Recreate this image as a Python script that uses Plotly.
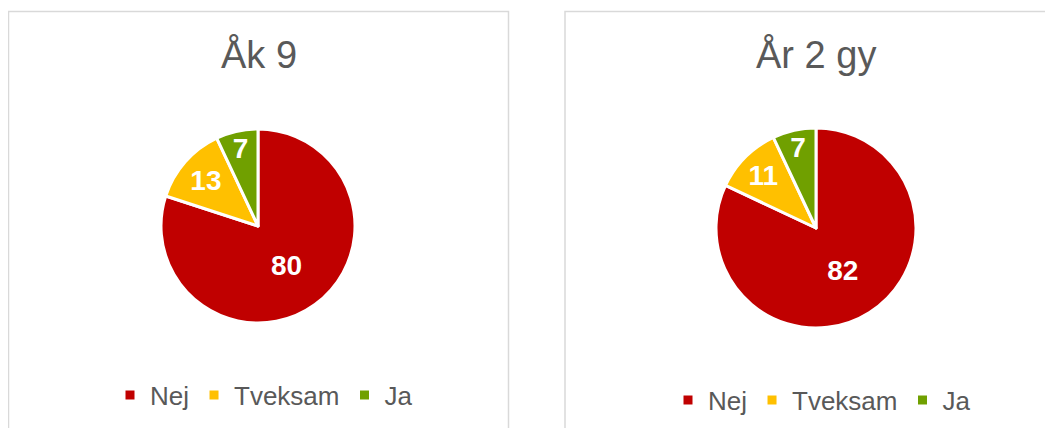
import plotly.graph_objects as go

categories = ["Nej", "Tveksam", "Ja"]
values_ak9 = [80, 13, 7]
values_ar2 = [82, 11, 7]
titles = ["Åk 9", "År 2 gy"]
colors = ["#C00000", "#FFC000", "#70A000"]

W, H = 1053, 428
OFF = 8  # page body margin in the browser
FONT = "Liberation Sans, Arial, sans-serif"

def px_x(v):
    return (v - OFF) / W

def px_y(v):
    return (H - (v - OFF)) / H

fig = go.Figure()

fig.add_trace(go.Pie(
    labels=categories, values=values_ak9, sort=False, direction="clockwise",
    rotation=0, marker=dict(colors=colors, line=dict(color="white", width=3)),
    textinfo="value", textposition="inside", insidetextorientation="horizontal",
    textfont=dict(family=FONT, size=28, color="white", weight="bold"),
    domain=dict(x=[px_x(161), px_x(355)], y=[px_y(323), px_y(129)]),
    legend="legend", hoverinfo="label+value",
))
# zero-width space keeps the second legend's entries separate from the first
fig.add_trace(go.Pie(
    labels=[c + "\u200b" for c in categories], values=values_ar2, sort=False,
    direction="clockwise",
    rotation=0, marker=dict(colors=colors, line=dict(color="white", width=3)),
    textinfo="value", textposition="inside", insidetextorientation="horizontal",
    textfont=dict(family=FONT, size=28, color="white", weight="bold"),
    domain=dict(x=[px_x(716), px_x(916)], y=[px_y(328), px_y(128)]),
    legend="legend2", hoverinfo="label+value",
))

legend_common = dict(
    orientation="h", xanchor="center", yanchor="middle",
    font=dict(family=FONT, size=26, color="#595959"),
    bgcolor="rgba(0,0,0,0)", itemclick=False, itemdoubleclick=False,
)

fig.update_layout(
    width=W, height=H, margin=dict(l=0, r=0, t=0, b=0),
    paper_bgcolor="white", plot_bgcolor="white",
    legend=dict(x=px_x(264), y=px_y(395), **legend_common),
    legend2=dict(x=px_x(822), y=px_y(400), **legend_common),
    shapes=[
        dict(type="rect", xref="paper", yref="paper",
             x0=px_x(8.5), x1=px_x(508.5), y0=px_y(450), y1=px_y(11.5),
             line=dict(color="#D9D9D9", width=1.5), fillcolor="rgba(0,0,0,0)"),
        dict(type="rect", xref="paper", yref="paper",
             x0=px_x(565), x1=px_x(1080), y0=px_y(450), y1=px_y(11.5),
             line=dict(color="#D9D9D9", width=1.5), fillcolor="rgba(0,0,0,0)"),
    ],
    annotations=[
        dict(text=titles[0], x=px_x(259), y=px_y(55), xref="paper", yref="paper",
             showarrow=False, xanchor="center", yanchor="middle",
             font=dict(family=FONT, size=38, color="#595959")),
        dict(text=titles[1], x=px_x(816), y=px_y(55), xref="paper", yref="paper",
             showarrow=False, xanchor="center", yanchor="middle",
             font=dict(family=FONT, size=38, color="#595959")),
    ],
)

fig.write_html("out.html")
